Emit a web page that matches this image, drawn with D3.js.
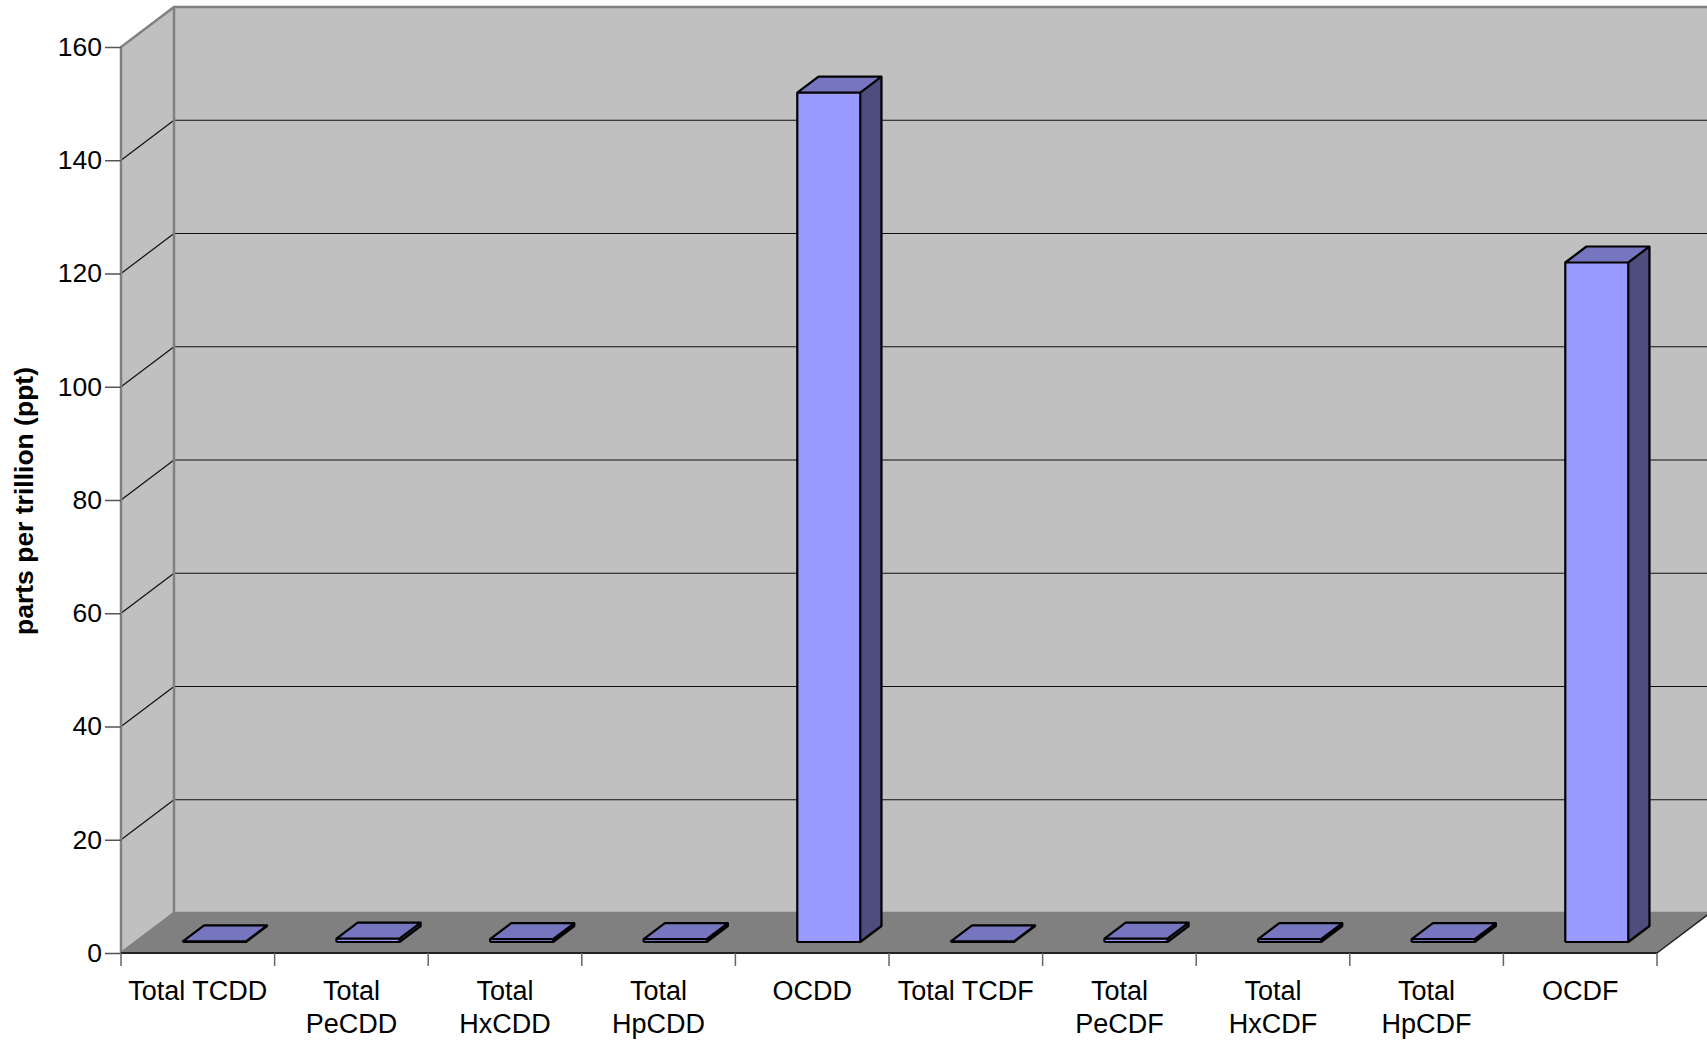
<!DOCTYPE html>
<html>
<head>
<meta charset="utf-8">
<script src="https://cdn.jsdelivr.net/npm/d3@7"></script>
<style>
  body { margin: 0; background: #fff; }
  text { font-family: "Liberation Sans", Arial, sans-serif; fill: #000; }
</style>
</head>
<body>
<svg class="svgChart"></svg>
<script>
(function () {
  // categories + values (ppt)
  var categories = ["Total TCDD", "Total PeCDD", "Total HxCDD", "Total HpCDD", "OCDD",
                    "Total TCDF", "Total PeCDF", "Total HxCDF", "Total HpCDF", "OCDF"];
  var values = [0.1, 0.6, 0.5, 0.5, 150, 0.1, 0.6, 0.5, 0.5, 120];
  var yTicks = [0, 20, 40, 60, 80, 100, 120, 140, 160];
  var yTitle = "parts per trillion (ppt)";

  var width = 1707, height = 1041;
  var left = 121, right = 1657, bottom = 953, top = 47;
  var depthX = 53, depthY = 40;          // 3d wall offset
  var f1 = 0.275, f2 = 0.675;            // bar front / back depth fraction

  var svg = d3.select('.svgChart')
    .attr('width', width)
    .attr('height', height);

  var x = d3.scaleBand().domain(categories).range([left, right]);
  var y = d3.scaleLinear().domain([0, 160]).range([bottom, top]);

  // walls
  var wallTop = y(160);
  svg.append('polygon')   // side wall
    .attr('points', [[left, bottom], [left, wallTop], [left + depthX, wallTop - depthY], [left + depthX, bottom - depthY]].join(' '))
    .attr('fill', '#c0c0c0');
  svg.append('polygon')   // back wall
    .attr('points', [[left + depthX, bottom - depthY], [left + depthX, wallTop - depthY], [right + depthX + 5, wallTop - depthY], [right + depthX + 5, bottom - depthY]].join(' '))
    .attr('fill', '#c0c0c0');
  svg.append('polygon')   // floor
    .attr('points', [[left, bottom], [left + depthX, bottom - depthY], [right + depthX, bottom - depthY], [right, bottom]].join(' '))
    .attr('fill', '#808080');

  // gridlines
  var grid = yTicks.filter(function (d) { return d > 0 && d < 160; });
  svg.selectAll('.gridBack').data(grid).enter().append('line')
    .attr('x1', left + depthX).attr('x2', width)
    .attr('y1', function (d) { return y(d) - depthY; })
    .attr('y2', function (d) { return y(d) - depthY; })
    .attr('stroke', '#111').attr('stroke-width', 1.2);
  svg.selectAll('.gridSide').data(grid).enter().append('line')
    .attr('x1', left).attr('x2', left + depthX)
    .attr('y1', function (d) { return y(d); })
    .attr('y2', function (d) { return y(d) - depthY; })
    .attr('stroke', '#111').attr('stroke-width', 1.2);

  // frame edges
  var frame = svg.append('g').attr('fill', 'none').attr('stroke', '#808080').attr('stroke-width', 2.5);
  frame.append('path').attr('d', d3.line()([[left, bottom], [left, wallTop], [left + depthX, wallTop - depthY], [width, wallTop - depthY]]));
  frame.append('path').attr('d', d3.line()([[left + depthX, wallTop - depthY], [left + depthX, bottom - depthY], [width, bottom - depthY]]));
  frame.append('path').attr('d', d3.line()([[left, bottom], [left + depthX, bottom - depthY]]));
  svg.append('path').attr('d', d3.line()([[right, bottom], [right + depthX, bottom - depthY]]))
    .attr('stroke', '#222').attr('stroke-width', 1.5).attr('fill', 'none');
  svg.append('line').attr('x1', left).attr('x2', right).attr('y1', bottom).attr('y2', bottom)
    .attr('stroke', '#222').attr('stroke-width', 2);

  // bars
  var bw = 63;
  var bars = svg.selectAll('.bar').data(categories).enter().append('g').attr('class', 'bar');
  function bx(d) { return x(d) + (x.bandwidth() - bw) / 2 + 2; }
  function face(pts) { return pts.map(function (p) { return p.join(','); }).join(' '); }
  bars.each(function (d, i) {
    var g = d3.select(this);
    var x0 = bx(d) + f1 * depthX, x1 = x0 + bw;
    var ddx = (f2 - f1) * depthX, ddy = (f2 - f1) * depthY;
    var yb = y(0) - f1 * depthY, yt = y(values[i]) - f1 * depthY;
    g.append('polygon').attr('points', face([[x1, yb], [x1 + ddx, yb - ddy], [x1 + ddx, yt - ddy], [x1, yt]]))
      .attr('fill', '#4d4d7e');
    g.append('polygon').attr('points', face([[x0, yt], [x0 + ddx, yt - ddy], [x1 + ddx, yt - ddy], [x1, yt]]))
      .attr('fill', '#7676c0');
    g.append('rect').attr('x', x0).attr('y', yt).attr('width', bw).attr('height', Math.max(0, yb - yt))
      .attr('fill', '#9999ff');
    g.append('path')
      .attr('d', d3.line()([[x0, yb], [x0, yt], [x0 + ddx, yt - ddy], [x1 + ddx, yt - ddy], [x1 + ddx, yb - ddy], [x1, yb], [x0, yb]]) +
        'M' + [x0, yt] + 'L' + [x1, yt] + 'L' + [x1, yb] + 'M' + [x1, yt] + 'L' + [x1 + ddx, yt - ddy])
      .attr('fill', 'none').attr('stroke', '#000').attr('stroke-width', 2.2).attr('stroke-linejoin', 'round');
  });

  // y axis
  var yAxis = d3.axisLeft(y).tickValues(yTicks).tickSize(16).tickPadding(3);
  var ya = svg.append('g').attr('transform', 'translate(' + left + ',0)').call(yAxis);
  ya.select('.domain').remove();
  ya.selectAll('line').attr('stroke', '#555').attr('stroke-width', 1.5);
  ya.selectAll('text').attr('font-size', 26.5).attr('font-family', '"Liberation Sans", Arial, sans-serif');

  // x axis (ticks at category boundaries)
  var bounds = categories.map(function (d) { return x(d); }).concat([right]);
  svg.selectAll('.xtick').data(bounds).enter().append('line')
    .attr('x1', function (d) { return d; }).attr('x2', function (d) { return d; })
    .attr('y1', bottom).attr('y2', bottom + 13)
    .attr('stroke', '#666').attr('stroke-width', 1.5);

  var xAxis = d3.axisBottom(x).tickSize(0).tickPadding(0);
  var xa = svg.append('g').attr('transform', 'translate(0,' + bottom + ')').call(xAxis);
  xa.select('.domain').remove();
  xa.selectAll('text')
    .attr('font-size', 27).attr('font-family', '"Liberation Sans", Arial, sans-serif')
    .attr('dy', null).attr('y', 0)
    .each(function (d) {
      var t = d3.select(this);
      var lines = this.getComputedTextLength() > 142 ? d.split(' ') : [d];
      t.text(null);
      lines.forEach(function (w, k) {
        t.append('tspan').attr('x', 0).attr('y', 47 + k * 32.5).text(w);
      });
    });

  // y title
  svg.append('text')
    .attr('text-anchor', 'middle')
    .attr('transform', 'translate(33,' + 501 + ')rotate(-90)')
    .attr('font-size', 26.5).attr('font-weight', 'bold')
    .text(yTitle);
})();
</script>
</body>
</html>
